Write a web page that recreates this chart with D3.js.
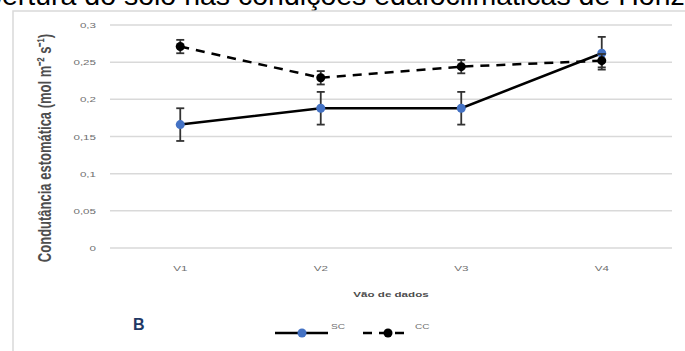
<!DOCTYPE html>
<html>
<head>
<meta charset="utf-8">
<script src="https://cdn.jsdelivr.net/npm/d3@7"></script>
<style>
    body { margin: 0; background: #ffffff; }
    svg { display: block; font-family: "Liberation Sans", Arial, sans-serif; }
    .grid line { stroke: #d9d9d9; stroke-width: 1.5; }
    .tickText { fill: #6f6f6f; font-size: 8px; }
    .axisTitle { fill: #4d4d4d; font-weight: bold; }
</style>
</head>
<body>
<div id="chart"></div>
<script>
// categories and values //
var categories = ["V1", "V2", "V3", "V4"];
var scValues = [0.166, 0.188, 0.188, 0.262];
var scErrors = [0.022, 0.022, 0.022, 0.022];
var ccValues = [0.271, 0.229, 0.244, 0.252];
var ccErrors = [0.009, 0.009, 0.009, 0.009];
var yTicks = [0, 0.05, 0.1, 0.15, 0.2, 0.25, 0.3];
var yTickLabels = ["0", "0,05", "0,1", "0,15", "0,2", "0,25", "0,3"];
var seriesNames = ["SC", "CC"];

// the figure is stretched sideways, so its texts are too //
var STRETCH = 1.45;

/**
 * Constructor for the gs chart
 */
function GsChart(){
    var self = this;
    self.init();
};

/**
 * Creates the svg and the scales
 */
GsChart.prototype.init = function(){
    var self = this;
    self.svgWidth = 685;
    self.svgHeight = 351;
    self.margin = {top: 25, right: 13, bottom: 103, left: 110};

    self.svg = d3.select("#chart").append("svg")
        .attr("width", self.svgWidth)
        .attr("height", self.svgHeight);

    self.x = d3.scalePoint()
        .domain(categories)
        .range([self.margin.left, self.svgWidth - self.margin.right])
        .padding(0.5);

    self.y = d3.scaleLinear()
        .domain([0, 0.3])
        .range([self.svgHeight - self.margin.bottom, self.margin.top]);
};

/**
 * Returns a transform that places a stretched text at (px, py)
 */
GsChart.prototype.place = function(px, py){
    return "translate(" + px + "," + py + ") scale(" + STRETCH + ",1)";
}

/**
 * Draws everything
 */
GsChart.prototype.update = function(){
    var self = this;
    var svg = self.svg;
    var x = self.x, y = self.y;
    var left = self.margin.left, right = self.svgWidth - self.margin.right;

    // title line of the page, cut at the top //
    svg.append("text")
        .attr("x", -44)
        .attr("y", 5)
        .style("font-size", "28.5px")
        .style("fill", "#000")
        .text("cobertura do solo nas condições edafoclimáticas de Horizonte");

    // chart border (left and top only visible) //
    svg.append("path")
        .attr("d", "M13," + self.svgHeight + "L13,11L" + self.svgWidth + ",11")
        .style("fill", "none")
        .style("stroke", "#d9d9d9")
        .style("stroke-width", 1.5);

    // gridlines //
    svg.append("g").attr("class", "grid")
        .selectAll("line").data(yTicks).enter().append("line")
        .attr("x1", left).attr("x2", right)
        .attr("y1", function(d){ return y(d); })
        .attr("y2", function(d){ return y(d); });

    // y tick labels //
    svg.append("g").selectAll("text").data(yTicks).enter().append("text")
        .attr("class", "tickText")
        .attr("transform", function(d){ return self.place(96, y(d) + 3); })
        .style("text-anchor", "end")
        .text(function(d, i){ return yTickLabels[i]; });

    // x tick labels //
    svg.append("g").selectAll("text").data(categories).enter().append("text")
        .attr("class", "tickText")
        .attr("transform", function(d){ return self.place(x(d), 271); })
        .style("text-anchor", "middle")
        .text(function(d){ return d; });

    // axis titles //
    svg.append("text")
        .attr("class", "axisTitle")
        .attr("transform", self.place((left + right) / 2, 297))
        .style("text-anchor", "middle")
        .style("font-size", "8px")
        .text("Vão de dados");

    svg.append("text")
        .attr("class", "axisTitle")
        .attr("transform", "translate(51," + 148 + ") rotate(-90) scale(1," + STRETCH + ")")
        .style("text-anchor", "middle")
        .style("font-size", "13px")
        .text("Condutância estomática (mol m⁻² s⁻¹)");

    // lines //
    var line = d3.line()
        .x(function(d, i){ return x(categories[i]); })
        .y(function(d){ return y(d); });

    var series = [
        {name: "SC", values: scValues, errors: scErrors, dash: null, marker: "#4472c4"},
        {name: "CC", values: ccValues, errors: ccErrors, dash: "9,7", marker: "#000000"}
    ];

    series.forEach(function(s){
        svg.append("path")
            .datum(s.values)
            .attr("d", line)
            .style("fill", "none")
            .style("stroke", "#000")
            .style("stroke-width", 2.5)
            .style("stroke-dasharray", s.dash);

        // error bars //
        var eb = svg.append("g").selectAll("g").data(s.values).enter().append("g");
        eb.append("line")
            .attr("x1", function(d, i){ return x(categories[i]); })
            .attr("x2", function(d, i){ return x(categories[i]); })
            .attr("y1", function(d, i){ return y(d - s.errors[i]); })
            .attr("y2", function(d, i){ return y(d + s.errors[i]); })
            .style("stroke", "#333").style("stroke-width", 1.8);
        [-1, 1].forEach(function(sign){
            eb.append("line")
                .attr("x1", function(d, i){ return x(categories[i]) - 4; })
                .attr("x2", function(d, i){ return x(categories[i]) + 4; })
                .attr("y1", function(d, i){ return y(d + sign * s.errors[i]); })
                .attr("y2", function(d, i){ return y(d + sign * s.errors[i]); })
                .style("stroke", "#333").style("stroke-width", 1.8);
        });

        svg.append("g").selectAll("circle").data(s.values).enter().append("circle")
            .attr("cx", function(d, i){ return x(categories[i]); })
            .attr("cy", function(d){ return y(d); })
            .attr("r", 4.5)
            .style("fill", s.marker);
    });

    // panel letter //
    svg.append("text")
        .attr("x", 133).attr("y", 330)
        .style("font-size", "16px").style("font-weight", "bold")
        .style("fill", "#1f3864")
        .text("B");

    // legend //
    var legendX = [275, 363];
    var legend = svg.append("g").selectAll("g").data(series).enter().append("g")
        .attr("transform", function(d, i){ return "translate(" + legendX[i] + ",333)"; });
    legend.append("line")
        .attr("x1", 0).attr("x2", function(d, i){ return i == 0 ? 53 : 45; })
        .attr("y1", 0).attr("y2", 0)
        .style("stroke", "#000").style("stroke-width", 2.5)
        .style("stroke-dasharray", function(d){ return d.dash; });
    legend.append("circle")
        .attr("cx", function(d, i){ return i == 0 ? 27 : 25; })
        .attr("cy", 0).attr("r", 4.5)
        .style("fill", function(d){ return d.marker; });
    legend.append("text")
        .attr("class", "tickText")
        .attr("transform", function(d, i){ return self.place(i == 0 ? 56 : 52, -4); })
        .style("font-size", "7px")
        .text(function(d, i){ return seriesNames[i]; });
};

var chart = new GsChart();
chart.update();
</script>
</body>
</html>
